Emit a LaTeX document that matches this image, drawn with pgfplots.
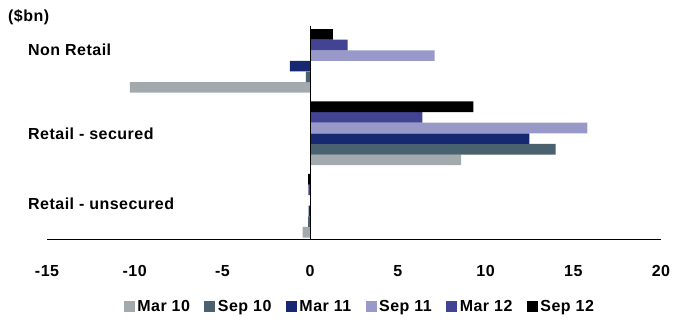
\documentclass[border=0pt]{standalone}
\usepackage{fontspec}
\setmainfont{Liberation Sans}[LetterSpace=3]
\usepackage{pgfplots}
\pgfplotsset{compat=1.18}
\definecolor{cMarA}{HTML}{A3AAAE}
\definecolor{cSepA}{HTML}{4A6270}
\definecolor{cMarB}{HTML}{172873}
\definecolor{cSepB}{HTML}{9999C9}
\definecolor{cMarC}{HTML}{434393}
\definecolor{cSepC}{HTML}{000000}
\newcommand{\lbl}{\fontsize{16}{19}\selectfont\bfseries}
\begin{document}
\begin{tikzpicture}
\useasboundingbox (0,0) rectangle (674pt,322pt);
\begin{axis}[
  at={(47pt,83pt)}, anchor=south west,
  scale only axis, width=614pt, height=213pt,
  xmin=-15, xmax=20, ymin=-0.46, ymax=2.482,
  axis x line=bottom, axis y line=none,
  axis line style={-, line width=1pt, black},
  xtick={-15,-10,...,20}, major tick length=0pt,
  ytick=\empty,
  /pgf/number format/assume math mode=true,
  xticklabel style={font=\lbl, yshift=-22.5pt},
  clip=false,
  xbar, bar width=0.1465,
  legend columns=6,
  legend style={at={(axis description cs:0.51,-0.318)}, anchor=center, draw=none,
    font=\lbl, /tikz/every even column/.append style={column sep=12pt},
    inner sep=0pt, nodes={inner sep=2.5pt}},
  legend cell align=left,
  legend image code/.code={\fill[#1,draw=none] (-2pt,-5.5pt) rectangle (9pt,5.5pt);},
]
\addplot[xbar, bar shift=-0.366, fill=cMarA, draw=none] coordinates {(-10.28,2) (8.6,1) (-0.43,0)};
\addplot[xbar, bar shift=-0.22, fill=cSepA, draw=none] coordinates {(-0.25,2) (14.0,1) (-0.12,0)};
\addplot[xbar, bar shift=-0.073, fill=cMarB, draw=none] coordinates {(-1.16,2) (12.5,1) (-0.08,0)};
\addplot[xbar, bar shift=0.073, fill=cSepB, draw=none] coordinates {(7.1,2) (15.8,1) (0.02,0)};
\addplot[xbar, bar shift=0.22, fill=cMarC, draw=none] coordinates {(2.13,2) (6.4,1) (-0.1,0)};
\addplot[xbar, bar shift=0.366, fill=cSepC, draw=none] coordinates {(1.29,2) (9.31,1) (-0.12,0)};
\legend{Mar 10, Sep 10, Mar 11, Sep 11, Mar 12, Sep 12}
\draw[line width=1pt, black] (axis cs:0,-0.46) -- (axis cs:0,2.482);
\end{axis}
\node[anchor=west, inner sep=0pt, font=\lbl] at (8pt,305pt) {(\$bn)};
\node[anchor=west, inner sep=0pt, font=\lbl] at (28pt,272pt) {Non Retail};
\node[anchor=west, inner sep=0pt, font=\lbl] at (28pt,188pt) {Retail - secured};
\node[anchor=west, inner sep=0pt, font=\lbl] at (28pt,118pt) {Retail - unsecured};
\end{tikzpicture}
\end{document}
